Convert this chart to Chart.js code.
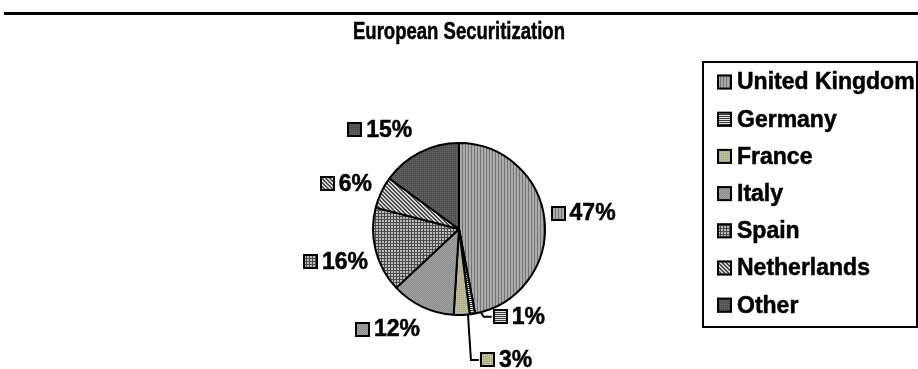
<!DOCTYPE html>
<html>
<head>
<meta charset="utf-8">
<script src="https://cdn.jsdelivr.net/npm/chart.js@4.4.0/dist/chart.umd.min.js"></script>
<style>
  html, body { margin: 0; padding: 0; background: #fff; }
  canvas { display: block; }
</style>
</head>
<body>
<canvas id="myChart" width="918" height="369"></canvas>
<script>
// data
const title = 'European Securitization';
const categories = ['United Kingdom', 'Germany', 'France', 'Italy', 'Spain', 'Netherlands', 'Other'];
const shares = [47, 1, 3, 12, 16, 6, 15];
const shareLabels = ['47%', '1%', '3%', '12%', '16%', '6%', '15%'];

// label layout tweaks (px, relative to the default outside-end spot)
const labelNudge = [[-2, -7], [19, -5], [18, 37], [1, 15], [0, 9], [-2, -5], [-4, -16]];
const withLeader = [false, true, true, false, false, false, false];

const FONT = 'bold 23px "Liberation Sans", Arial, sans-serif';

function tile(w, h, draw) {
  const c = document.createElement('canvas');
  c.width = w; c.height = h;
  const g = c.getContext('2d');
  draw(g);
  return document.createElement('canvas').getContext('2d').createPattern(c, 'repeat');
}

const patterns = [
  // vertical stripes
  tile(3, 1, g => { g.fillStyle = '#ababab'; g.fillRect(0, 0, 3, 1); g.fillStyle = '#747474'; g.fillRect(0, 0, 1, 1); }),
  // horizontal stripes
  tile(1, 2, g => { g.fillStyle = '#e4e4e4'; g.fillRect(0, 0, 1, 2); g.fillStyle = '#3a3a3a'; g.fillRect(0, 0, 1, 1); }),
  // olive dots
  tile(2, 2, g => { g.fillStyle = '#b2b28a'; g.fillRect(0, 0, 2, 2); g.fillStyle = '#c6c6a4'; g.fillRect(0, 0, 1, 1); }),
  // fine grey dots
  tile(2, 2, g => { g.fillStyle = '#8a8a8a'; g.fillRect(0, 0, 2, 2); g.fillStyle = '#a4a4a4'; g.fillRect(0, 0, 1, 1); g.fillRect(1, 1, 1, 1); }),
  // grid
  tile(3, 3, g => { g.fillStyle = '#bdbdbd'; g.fillRect(0, 0, 3, 3); g.fillStyle = '#4a4a4a'; g.fillRect(0, 0, 3, 1); g.fillRect(0, 0, 1, 3); }),
  // diagonal
  tile(4, 4, g => {
    g.fillStyle = '#d0d0d0'; g.fillRect(0, 0, 4, 4);
    g.fillStyle = '#505050';
    for (let i = 0; i < 4; i++) { g.fillRect(i, i, 1, 1); g.fillRect(i, (i + 1) % 4, 1, 1); }
  }),
  // dark dots
  tile(2, 2, g => { g.fillStyle = '#505050'; g.fillRect(0, 0, 2, 2); g.fillStyle = '#6a6a6a'; g.fillRect(0, 0, 1, 1); })
];

function swatch(ctx, x, y, i) {
  ctx.fillStyle = patterns[i];
  ctx.fillRect(x, y, 15, 15);
  ctx.lineWidth = 2;
  ctx.strokeStyle = '#000';
  ctx.strokeRect(x + 1, y + 1, 13, 13);
}

// slightly heavier text, closer to the original's bold
function boldText(ctx, s, x, y) {
  ctx.fillStyle = '#000';
  ctx.strokeStyle = '#000';
  ctx.lineWidth = 0.5;
  ctx.fillText(s, x, y);
  ctx.strokeText(s, x, y);
}

const decor = {
  id: 'decor',
  afterDraw(chart) {
    const ctx = chart.ctx;
    ctx.save();

    // top rule
    ctx.fillStyle = '#000';
    ctx.fillRect(4, 12, 914, 3);

    // title, narrow face
    ctx.save();
    ctx.font = 'bold 24px "Liberation Sans", Arial, sans-serif';
    ctx.textAlign = 'center';
    ctx.textBaseline = 'alphabetic';
    const tw = ctx.measureText(title).width;
    ctx.translate(459, 39);
    ctx.scale(212 / tw, 1);
    boldText(ctx, title, 0, 0);
    ctx.restore();

    // legend
    ctx.lineWidth = 2;
    ctx.strokeStyle = '#000';
    ctx.strokeRect(703, 62, 214, 265);
    ctx.font = FONT;
    ctx.textAlign = 'left';
    ctx.textBaseline = 'middle';
    categories.forEach((name, i) => {
      const cy = 82 + i * 37.2;
      swatch(ctx, 717, cy - 7.5, i);
      boldText(ctx, name, 737, cy + 1);
    });

    // data labels
    const arcs = chart.getDatasetMeta(0).data;
    arcs.forEach((arc, i) => {
      const mid = (arc.startAngle + arc.endAngle) / 2;
      const dx = Math.cos(mid), dy = Math.sin(mid);
      const r = arc.outerRadius + 8;
      const ax = arc.x + dx * r, ay = arc.y + dy * r;
      const w = 15 + 4 + ctx.measureText(shareLabels[i]).width;
      let left = dx >= 0 ? ax : ax - w;
      left += labelNudge[i][0];
      const cy = ay + labelNudge[i][1];

      if (withLeader[i]) {
        const ex = left - 9;
        const sx = ex - 3;
        const R = arc.outerRadius;
        const sy = arc.y + Math.sqrt(Math.max(R * R - (sx - arc.x) * (sx - arc.x), 0));
        ctx.beginPath();
        ctx.moveTo(sx, sy);
        ctx.lineTo(ex, cy);
        ctx.lineTo(left - 1, cy);
        ctx.lineWidth = 2;
        ctx.strokeStyle = '#000';
        ctx.stroke();
      }

      swatch(ctx, Math.round(left), Math.round(cy - 7.5), i);
      boldText(ctx, shareLabels[i], left + 19, cy + 1);
    });

    ctx.restore();
  }
};

new Chart(document.getElementById('myChart'), {
  type: 'pie',
  data: {
    labels: categories,
    datasets: [{
      data: shares,
      backgroundColor: patterns,
      borderColor: '#000',
      borderWidth: 2
    }]
  },
  options: {
    responsive: false,
    animation: false,
    layout: { padding: { left: 372, right: 372, top: 142, bottom: 53 } },
    plugins: {
      legend: { display: false },
      tooltip: { enabled: false }
    }
  },
  plugins: [decor]
});
</script>
</body>
</html>
